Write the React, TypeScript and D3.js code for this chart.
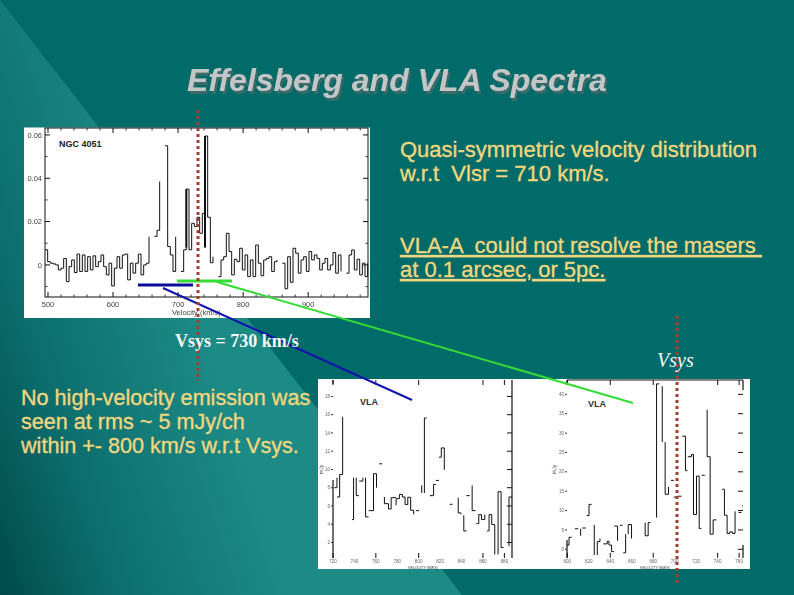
import React from "react";
import * as d3 from "d3";

type P = [number, number];

// Effelsberg spectrum of NGC 4051: flux per channel in mJy, channel width about 4.1 km/s from 495 km/s
const effelsbergStart = 495.4;
const effelsbergStep = 4.1;
const effelsbergMJy: number[] = [
  7, 1.5, 0.8, 0.5, 0, -2.3, -1.5, 3, -7.7, -0.8, 2.3, -3.5, 5, -3, 4.6, -3, 3.8, -2.3, 4.2, -0.8,
  1.5, 4.6, -0.8, -4.6, 0.8, -9.7, -1.5, 3.8, -1.5, 4.6, 5, -6.9, 0.8, -3.8, 0.8, 5, -4.6, 0, 0.8, 13,
  2.3, 13.2, 16, 38.5, 39.2, 55, 8.5, 4.6, -3, 13, 13.8, -3, 7, 35, 7, 19.2, 17.7, 22, 14.6, 23.8,
  59.5, 22, 1, 3.8, 5.4, -5.4, 2.3, 3.8, 14.6, 6.2, -4.6, 2.6, 1.5, 7.7, -2.3, 4.6, -5.4, 2.3, -5.4, 9.2,
  0.8, -5, 2.3, 3, 3.8, -3, 1.5, 2.3, -3, 0.8, -11, 3.8, -8, 7.7, 5.4, -3.8, 2.3, 3.8, -3, 6.2,
  2.3, 4.6, 3, -2.3, 0.8, 3, -2.3, 0, 5.7, -3.8, 4.6, -3, 5.4, -3.8, 4.6, 6.9, -2.3, 2.6, -4.6, 0.8, -5.4, 0.8,
];
const effelsbergGaps: number[] = [40, 44, 50, 64, 88, 112];
const effelsbergBold: number[] = [53, 60];
const effelsbergXTicks = [500, 600, 700, 800, 900];
const effelsbergYTicks = [0, 0.02, 0.04, 0.06];
const effelsbergYLabels = ["0", "0.02", "0.04", "0.06"];

// VLA spectra: connected runs of (velocity km/s, flux mJy)
const vlaLeftRuns: P[][] = [
  [[721.2, 8], [723.7, 8], [723.7, 9.09]],
  [[723.7, 6.98], [726.2, 6.98], [726.2, 9.45], [729, 9.45], [729, 15.78]],
  [[737.7, 4.51], [739.2, 4.51], [739.2, 9.09]],
  [[741.7, 9.09], [741.7, 7.13], [744.2, 7.13]],
  [[744.5, 8.73], [747.9, 8.73], [747.9, 9.09]],
  [[750.4, 9.09], [750.4, 4.8], [753.2, 4.8]],
  [[753.2, 5.49], [757.8, 5.49], [757.8, 9.53], [760.6, 9.53], [760.6, 8]],
  [[763.1, 10.62], [765.9, 10.62]],
  [[768, 6.98], [768, 6.25], [771.8, 6.25], [771.8, 5.67], [774.3, 5.67], [774.3, 6.91], [778.9, 6.91]],
  [[778.9, 6.07], [778.9, 6.8], [782, 6.8], [782, 7.27], [784.8, 7.27], [784.8, 6.98], [787.3, 6.98], [787.3, 6.15], [789.8, 6.15], [789.8, 6.95], [792.5, 6.95], [792.5, 5.53], [795.3, 5.53], [795.3, 5.09]],
  [[797.5, 5.49], [800.3, 5.49]],
  [[802.8, 8.25], [802.8, 7.42]],
  [[805.3, 7.42], [805.3, 15.64], [807.4, 15.64]],
  [[810.5, 7.13], [813.9, 7.13], [813.9, 8.36], [816.1, 8.36]],
  [[816.1, 8.8], [818.9, 8.8]],
  [[818.9, 11.35], [821.1, 11.35], [821.1, 12.36], [823.9, 12.36], [823.9, 9.96]],
  [[829.1, 6.18], [831.6, 6.18]],
  [[836.9, 6.91], [836.9, 5.24], [839.4, 5.24], [839.4, 5.09]],
  [[842.1, 4.98], [842.1, 3.27], [844.6, 3.27]],
  [[844.6, 7.13], [847.7, 7.13]],
  [[849.9, 8.25], [849.9, 5.49], [853, 5.49]],
  [[853.9, 4.07], [856.1, 4.07], [856.1, 5.05], [858.6, 5.05], [858.6, 4.51], [861.7, 4.51], [861.7, 5.05]],
  [[863.8, 3.27], [865.7, 3.27], [865.7, 5.05], [868.2, 5.05], [868.2, 3.96], [871, 3.96], [871, 0.69]],
  [[874.1, 0.69], [874.1, 7.56], [876.9, 7.56], [876.9, 1.45], [879.3, 1.45]],
  [[884.3, 1.6], [884.3, 6.98], [887.1, 6.98]],
];
const vlaRightRuns: P[][] = [
  [[599.7, 1.1], [601.6, 1.1], [601.6, 3.1], [604, 3.1]],
  [[607.1, 5.3], [610.2, 5.3]],
  [[612.4, 5.3], [612.4, 3.5]],
  [[614, 5.5], [617.1, 5.5]],
  [[618, 8.7], [620.2, 8.7], [620.2, 11.6], [622.6, 11.6]],
  [[625.1, 6.3], [625.1, -1.5]],
  [[627.9, -1.5], [627.9, 2], [630.4, 2], [630.4, 2.8]],
  [[633.5, 1.4], [637.2, 1.4], [637.2, 2.1], [638.8, 2.1], [638.8, 1.1], [641.2, 1.1], [641.2, -0.6], [643.4, -0.6]],
  [[643.7, 6], [646.8, 6], [646.8, 2.2]],
  [[649, 6.2], [651.5, 6.2]],
  [[652.1, -0.9], [654.3, -0.9], [654.3, 3.9]],
  [[656.7, 3.9], [656.7, 6.4], [659.8, 6.4], [659.8, 2.8]],
  [[672.5, 6.9], [672.5, 3.5], [675.3, 3.5], [675.3, 6.9], [677.5, 6.9]],
  [[683.1, 8.2], [683.1, 42.7], [685.6, 42.7]],
  [[688.4, 42.1], [688.4, 27.7]],
  [[691.1, 27.7], [691.1, 14.2], [694.2, 14.2], [694.2, 16.1]],
  [[696.4, 17.8], [699.2, 17.8]],
  [[699.2, 13.4], [703.2, 13.7], [706.3, 13.7]],
  [[707, 29.2], [710, 29.2], [710, 20.3], [711.9, 20.3]],
  [[712.2, 23.9], [715.6, 23.9], [715.6, 24.5], [717.5, 24.5], [717.5, 9], [720.3, 9], [720.3, 18.9], [722.8, 18.9], [722.8, 5.4], [724.9, 5.4]],
  [[725.2, 19.1], [728, 19.1]],
  [[730.2, 36], [730.2, 23.9], [733, 23.9], [733, 3.9], [735.8, 3.9], [735.8, 7.6], [738.9, 7.6]],
  [[744.2, 15.5], [746.3, 15.5], [746.3, 8.8], [748.8, 8.8], [748.8, 4.1], [751.3, 4.1], [751.3, 4.5], [753.8, 4.5], [753.8, 4.1], [756.2, 4.1], [756.2, 9.8]],
  [[759.7, 9.5], [762.1, 9.5]],
  [[762.8, 11.2], [763.6, 11.2]],
];
const vlaLeftXTicks = [720, 740, 760, 780, 800, 820, 840, 860, 880];
const vlaLeftXDrawn = [720, 760, 800, 860, 880];
const vlaLeftYTicks = [2, 4, 6, 8, 10, 12, 14, 16, 18];
const vlaRightXTicks = [600, 620, 640, 660, 680, 700, 720, 740, 760];
const vlaRightXDrawn = [600, 640, 680, 740, 760];
const vlaRightYTicks = [0, 5, 10, 15, 20, 25, 30, 35, 40];

const titleText = "Effelsberg and VLA Spectra";
const rightNotes = ["Quasi-symmetric velocity distribution", "w.r.t  Vlsr = 710 km/s."];
const underlinedNotes = ["VLA-A  could not resolve the masers ", "at 0.1 arcsec, or 5pc."];
const leftNotes = ["No high-velocity emission was", "seen at rms ~ 5 mJy/ch", "within +- 800 km/s w.r.t Vsys."];

const SANS = "'Liberation Sans', Arial, sans-serif";
const SERIF = "'Liberation Serif', 'Times New Roman', serif";
const YELLOW = "#f0d67e";
const RED = "#a83c30";

function EffFrame({ x, y, xTicks, yTicks, yFmt, labelSize, xMinor, yMinor }: any) {
  const [x0, x1] = x.range();
  const [y0, y1] = y.range();
  return (
    <g fontFamily={SANS} fontSize={labelSize} fill="#444">
      <rect x={x0} y={y1} width={x1 - x0} height={y0 - y1} fill="none" stroke="#111" strokeWidth={1} />
      {xTicks.map((t: number) => (
        <g key={t}>
          <line x1={x(t)} x2={x(t)} y1={y0} y2={y0 - 5} stroke="#111" />
          <line x1={x(t)} x2={x(t)} y1={y1} y2={y1 + 5} stroke="#111" />
          <text x={x(t)} y={y0 + labelSize + 2} textAnchor="middle" filter="url(#soft)">{t}</text>
        </g>
      ))}
      {xMinor.map((t: number) => (
        <g key={t}>
          <line x1={x(t)} x2={x(t)} y1={y0} y2={y0 - 2.5} stroke="#333" />
          <line x1={x(t)} x2={x(t)} y1={y1} y2={y1 + 2.5} stroke="#333" />
        </g>
      ))}
      {yTicks.map((t: number) => (
        <g key={t}>
          <line x1={x0} x2={x0 + 5} y1={y(t)} y2={y(t)} stroke="#111" />
          <line x1={x1} x2={x1 - 5} y1={y(t)} y2={y(t)} stroke="#111" />
          <text x={x0 - 3} y={y(t) + labelSize * 0.35} textAnchor="end" filter="url(#soft)">{yFmt(t)}</text>
        </g>
      ))}
      {yMinor.map((t: number) => (
        <g key={t}>
          <line x1={x0} x2={x0 + 2.5} y1={y(t)} y2={y(t)} stroke="#333" />
          <line x1={x1} x2={x1 - 2.5} y1={y(t)} y2={y(t)} stroke="#333" />
        </g>
      ))}
    </g>
  );
}

function VlaFrame({ x, y, xTicks, xDrawn, yTicks, spines }: any) {
  const [x0, x1] = x.range();
  const [y0, y1] = y.range();
  return (
    <g fontFamily={SANS} fontSize={4.6} fill="#666">
      {spines.map((s: number[], i: number) => (
        <line key={i} x1={s[0]} x2={s[2]} y1={s[1]} y2={s[3]} stroke="#111" strokeWidth={1.2} />
      ))}
      {xTicks.map((t: number) => (
        <text key={t} x={x(t)} y={y0 + 5} textAnchor="middle" filter="url(#soft)">{t}</text>
      ))}
      {xDrawn.map((t: number) => (
        <g key={t}>
          <line x1={x(t)} x2={x(t)} y1={y0} y2={y0 - 5} stroke="#111" />
          <line x1={x(t)} x2={x(t)} y1={y1} y2={y1 + 5} stroke="#111" />
        </g>
      ))}
      {yTicks.map((t: number) => (
        <g key={t}>
          <line x1={x1} x2={x1 - 5} y1={y(t)} y2={y(t)} stroke="#111" />
          <line x1={x0} x2={x0 - 2} y1={y(t)} y2={y(t)} stroke="#333" />
          <text x={x0 - 3} y={y(t) + 1.6} textAnchor="end" filter="url(#soft)">{t}</text>
        </g>
      ))}
    </g>
  );
}

export default function App() {
  const W = 794, H = 595;
  // Effelsberg panel
  const ex = d3.scaleLinear().domain([495.4, 992]).range([45, 368]);
  const ey = d3.scaleLinear().domain([-0.0148, 0.0632]).range([297, 128]);
  const effPts = effelsbergMJy.map((m, i) => ({
    v: effelsbergStart + i * effelsbergStep,
    f: m / 1000,
    i,
  }));
  const effLine = d3.line<any>()
    .x((d) => ex(d.v))
    .y((d) => ey(d.f))
    .curve(d3.curveStepAfter)
    .defined((d) => !effelsbergGaps.includes(d.i));
  const effBold = effelsbergBold.map((i) => effPts[i]);

  // VLA panels
  const lx = d3.scaleLinear().domain([720, 887.1]).range([333, 512]);
  const ly = d3.scaleLinear().domain([0.3, 19.8]).range([558, 380]);
  const rx = d3.scaleLinear().domain([599.7, 763.6]).range([567, 743]);
  const ry = d3.scaleLinear().domain([-2.2, 43.7]).range([549.3 + 2.2 * 3.88, 380]);
  const leftLine = d3.line<P>().x((d) => lx(d[0])).y((d) => ly(d[1]));
  const rightLine = d3.line<P>().x((d) => rx(d[0])).y((d) => ry(d[1]));

  return (
    <svg width={W} height={H} viewBox={`0 0 ${W} ${H}`} style={{ position: "fixed", left: 0, top: 0 }}>
      <defs>
        <linearGradient id="wedge" gradientUnits="userSpaceOnUse" x1={0} y1={595} x2={261} y2={510}>
          <stop offset="0" stopColor="#004a4a" />
          <stop offset="0.4" stopColor="#0c6e6d" />
          <stop offset="1" stopColor="#1c8a85" />
        </linearGradient>
        <filter id="shadow" x="-5%" y="-20%" width="110%" height="150%">
          <feDropShadow dx={2} dy={3} stdDeviation={0.5} floodColor="#3a6a69" />
        </filter>
        <filter id="soft" x="-30%" y="-30%" width="160%" height="160%">
          <feGaussianBlur stdDeviation={0.35} />
        </filter>
      </defs>
      <rect width={W} height={H} fill="#006b68" />
      <polygon points="0,0 462,595 0,595" fill="url(#wedge)" />

      {/* Title */}
      <text x={187} y={91} fontFamily={SANS} fontSize={32} fontStyle="italic" fontWeight="bold" fill="#c2c6c6" filter="url(#shadow)">{titleText}</text>

      {/* Effelsberg panel */}
      <rect x={24} y={127.5} width={346} height={190.5} fill="#fff" />
      <EffFrame
        x={ex}
        y={ey}
        xTicks={effelsbergXTicks}
        yTicks={effelsbergYTicks}
        yFmt={(t: number) => effelsbergYLabels[effelsbergYTicks.indexOf(t)]}
        labelSize={7.5}
        xMinor={d3.range(520, 990, 20).filter((t) => t % 100 !== 0)}
        yMinor={[0.01, 0.03, 0.05, -0.01]}
      />
      <path d={effLine(effPts) || ""} fill="none" stroke="#111" strokeWidth={1} />
      {effBold.map((d) => (
        <line key={d.i} x1={ex(d.v)} x2={ex(d.v)} y1={ey(0.008)} y2={ey(d.f)} stroke="#111" strokeWidth={2} />
      ))}
      <text x={59} y={147} fontFamily={SANS} fontSize={9} fontWeight="bold" fill="#222">NGC 4051</text>
      <text x={172} y={315} fontFamily={SANS} fontSize={7.5} fill="#444" filter="url(#soft)">Velocity (km/s)</text>

      {/* VLA panel */}
      <rect x={318} y={379} width={432} height={190} fill="#fff" />
      <VlaFrame
        x={lx}
        y={ly}
        xTicks={vlaLeftXTicks}
        xDrawn={vlaLeftXDrawn}
        yTicks={vlaLeftYTicks}
        spines={[[333, 380, 333, 384], [333, 480, 333, 558], [512, 380, 512, 558]]}
      />
      <VlaFrame
        x={rx}
        y={ry}
        xTicks={vlaRightXTicks}
        xDrawn={vlaRightXDrawn}
        yTicks={vlaRightYTicks}
        spines={[[567, 380, 743, 380], [567, 380, 567, 385], [567, 540, 567, 558], [743, 380, 743, 390], [743, 545, 743, 558]]}
      />
      {vlaLeftRuns.map((r, i) => (
        <path key={i} d={leftLine(r) || ""} fill="none" stroke="#111" strokeWidth={1} />
      ))}
      {vlaRightRuns.map((r, i) => (
        <path key={i} d={rightLine(r) || ""} fill="none" stroke="#111" strokeWidth={1} />
      ))}
      <g fontFamily={SANS} fontWeight="bold" fontSize={9} fill="#333">
        <text x={360} y={405}>VLA</text>
        <text x={588} y={407}>VLA</text>
      </g>
      <g fontFamily={SANS} fontSize={3.6} fill="#333">
        <text x={408} y={568.5} filter="url(#soft)">VELOCITY (KM/S)</text>
        <text x={640} y={568.5} filter="url(#soft)">VELOCITY (KM/S)</text>
        <text transform="translate(323,474) rotate(-90)" fontSize={5}>mJy</text>
        <text transform="translate(556,474) rotate(-90)" fontSize={5}>mJy</text>
      </g>

      {/* Velocity-range bars and connectors */}
      <line x1={138} x2={193} y1={285} y2={285} stroke="#0a0a9c" strokeWidth={3} />
      <line x1={163} y1={288} x2={412} y2={400} stroke="#1212ac" strokeWidth={2} />
      <line x1={177} x2={232} y1={281} y2={281} stroke="#35dc35" strokeWidth={3} />
      <line x1={217} y1={282} x2={633} y2={403} stroke="#35dc35" strokeWidth={2} />

      {/* Systemic velocity markers */}
      <line x1={198} x2={198} y1={110} y2={381} stroke={RED} strokeWidth={3} strokeDasharray="3 3" />
      <line x1={677} x2={677} y1={316} y2={584} stroke={RED} strokeWidth={3} strokeDasharray="3 3" />

      {/* Notes */}
      <g fontFamily={SANS} fill={YELLOW} stroke={YELLOW} strokeWidth={0.35}>
        <g fontSize={22}>
          <text x={400} y={157}>{rightNotes[0]}</text>
          <text x={400} y={181} style={{ whiteSpace: "pre" }}>{rightNotes[1]}</text>
          <text x={400} y={253} textDecoration="underline" style={{ whiteSpace: "pre" }}>{underlinedNotes[0]}</text>
          <text x={400} y={277} textDecoration="underline">{underlinedNotes[1]}</text>
        </g>
        <g fontSize={21.6}>
          <text x={21} y={405}>{leftNotes[0]}</text>
          <text x={21} y={429}>{leftNotes[1]}</text>
          <text x={21} y={453}>{leftNotes[2]}</text>
        </g>
      </g>
      <text x={175} y={347} fontFamily={SERIF} fontWeight="bold" fontSize={18} fill="#f4f8f8">Vsys = 730 km/s</text>
      <text x={657} y={367} fontFamily={SERIF} fontStyle="italic" fontSize={20} fill="#f4f8f8">Vsys</text>
    </svg>
  );
}
